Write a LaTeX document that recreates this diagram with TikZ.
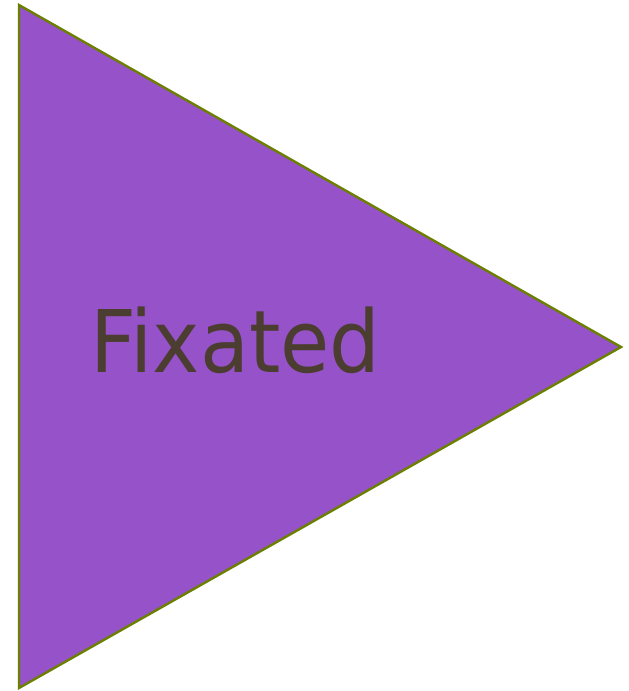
\documentclass[tikz,border=0pt]{standalone}
\usepackage{fontspec}
\setmainfont{DejaVu Sans}
\usepackage{xcolor}
\usepackage{tikz}
\usetikzlibrary{positioning}

\definecolor{tripurple}{RGB}{150,82,201}
\definecolor{triolive}{RGB}{107,128,0}
\definecolor{labelbrown}{RGB}{75,61,48}

\begin{document}
\begin{tikzpicture}[
  x=1pt, y=-1pt,
  tri/.style={draw=triolive, fill=tripurple, line width=2.4pt, line join=miter},
  lbl/.style={inner sep=0pt, anchor=base west, text=labelbrown, font=\fontsize{80}{90}\selectfont}
]
\useasboundingbox (0,0) rectangle (629,691);
\coordinate (tl) at (19,5);
\coordinate (bl) at (19,688);
\coordinate (tip) at (621,347);
\draw[tri] (tl) -- (tip) -- (bl) -- cycle;
\node[lbl] (fix) at (90,372) {\scalebox{1}[1.08]{Fixated}};
\end{tikzpicture}
\end{document}
